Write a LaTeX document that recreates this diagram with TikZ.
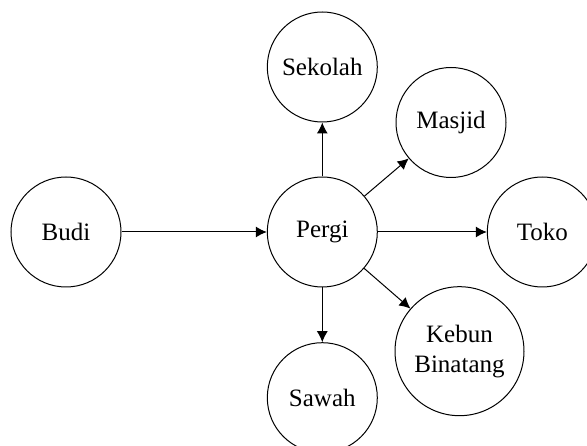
\documentclass[tikz,border=0pt]{standalone}
\usepackage{fontspec}
\setmainfont{Liberation Serif}
\usetikzlibrary{arrows.meta}
\begin{document}
\begin{tikzpicture}[x=1pt,y=1pt,
  place/.style={circle,draw,line width=1pt,inner sep=0pt,minimum size=110pt,
    align=center,font=\fontsize{25}{30}\selectfont},
  link/.style={line width=1pt,-{Latex[length=11pt,width=11pt]}}]
\useasboundingbox (0,0) rectangle (587,445);
\node[place] (budi) at (66,213) {Budi};
\node[place] (pergi) at (322.3,213) {Pergi};
\node[place] (sekolah) at (322.3,378) {Sekolah};
\node[place] (masjid) at (451,322.5) {Masjid};
\node[place] (toko) at (542.3,213) {Toko};
\node[place,minimum size=129pt] (kebun) at (459.5,93.8) {Kebun\\Binatang};
\node[place] (sawah) at (322.3,47.3) {Sawah};
\draw[link] (budi) -- (pergi);
\draw[link] (pergi) -- (sekolah);
\draw[link] (pergi) -- (masjid);
\draw[link] (pergi) -- (toko);
\draw[link] (pergi) -- (kebun);
\draw[link] (pergi) -- (sawah);
\end{tikzpicture}
\end{document}
